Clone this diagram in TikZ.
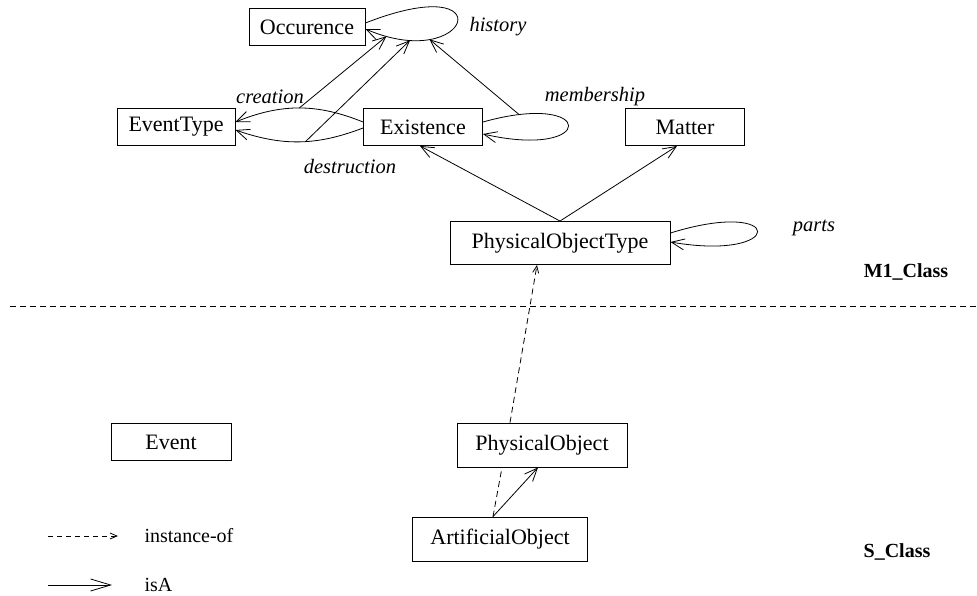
\documentclass[tikz,border=0pt]{standalone}
\usepackage{fontspec}
\setmainfont{Liberation Serif}
\usetikzlibrary{arrows.meta}

\begin{document}
\begin{tikzpicture}[x=1pt,y=-1pt,
  cls/.style={draw, line width=0.9pt, minimum width=119, minimum height=37, inner sep=0pt, font=\fontsize{22}{26}\selectfont},
  lbl/.style={font=\fontsize{20.5}{24}\selectfont\itshape},
  lvl/.style={font=\fontsize{20}{24}\selectfont\bfseries},
  txt/.style={anchor=west, font=\fontsize{20}{24}\selectfont},
  isa/.style={line width=0.8pt, -{Straight Barb[length=13pt,width=11pt]}},
  inst/.style={line width=0.8pt, dash pattern=on 6pt off 4pt, -{Straight Barb[length=7pt,width=6pt]}}]
  \useasboundingbox (0,0) rectangle (977,596);

  % classes
  \node[cls, minimum width=116] (occ) at (307,27) {Occurence};
  \node[cls, minimum width=118] (evtype) at (176,127) {EventType};
  \node[cls] (exist) at (423,127) {Existence};
  \node[cls] (matter) at (685,127) {Matter};
  \node[cls, minimum width=220, minimum height=43] (pot) at (560,243) {PhysicalObjectType};
  \node[cls, minimum width=120] (event) at (171,442) {Event};
  \node[cls, minimum width=170, minimum height=44] (pobj) at (542,445) {PhysicalObject};
  \node[cls, minimum width=175, minimum height=44] (aobj) at (500,539) {ArtificialObject};

  % attribute links
  \draw[isa] ([yshift=4]occ.east) .. controls +(140,-55) and +(105,45) .. ([yshift=-2]occ.east)
    coordinate[pos=.75] (hmem) coordinate[pos=.84] (hdes) coordinate[pos=.93] (hcre);
  \draw[isa] ([yshift=5]exist.west) to[bend right=22] coordinate[pos=.5] (cre) ([yshift=5]evtype.east);
  \draw[isa] ([yshift=-1]exist.west) to[bend left=20] coordinate[pos=.45] (des) ([yshift=-3]evtype.east);
  \draw[isa] ([yshift=5]exist.east) .. controls +(114,-32) and +(114,26) .. ([yshift=-7]exist.east)
    coordinate[pos=.12] (mem);
  \draw[isa] ([yshift=10]pot.east) .. controls +(116,-36) and +(116,20) .. ([yshift=1]pot.east);

  % links on links
  \draw[isa] (cre) -- (hcre);
  \draw[isa] (des) -- (hdes);
  \draw[isa] (mem) -- (hmem);

  % isA
  \draw[isa] (pot.north) -- ([xshift=-3]exist.south);
  \draw[isa] (pot.north) -- ([xshift=-8]matter.south);
  \draw[isa] ([xshift=-7]aobj.north) -- ([xshift=-4]pobj.south);

  % instance-of
  \draw[inst] ([xshift=-32]pobj.north) -- ([xshift=-23]pot.south);
  \draw[line width=0.8pt, dash pattern=on 6pt off 4pt] ([xshift=-7]aobj.north) -- ([xshift=-40]pobj.south);

  % labels
  \node[lbl] (lhist) at (498,27) {history};
  \node[lbl] (lcre) at (270,97) {creation};
  \node[lbl] (ldes) at (350,167) {destruction};
  \node[lbl] (lmem) at (595,97) {membership};
  \node[lbl] (lparts) at (814,228) {parts};

  % levels
  \coordinate (sepl) at (10,306);
  \coordinate (sepr) at (977,306);
  \draw[line width=0.7pt, dash pattern=on 6pt off 4pt] (sepl) -- (sepr);
  \node[lvl] (m1) at (906,272) {M1\_Class};
  \node[lvl] (sc) at (897,552) {S\_Class};

  % legend
  \coordinate (inst0) at (48,536);
  \coordinate (inst1) at (118,536);
  \coordinate (isa0) at (48,585);
  \coordinate (isa1) at (112,585);
  \draw[inst, dash pattern=on 5pt off 4pt] (inst0) -- (inst1);
  \draw[line width=0.8pt, -{Straight Barb[length=20pt,width=12pt]}] (isa0) -- (isa1);
  \node[txt] (linst) at (141,536) {instance-of};
  \node[txt] (lisa) at (141,585) {isA};
\end{tikzpicture}
\end{document}
